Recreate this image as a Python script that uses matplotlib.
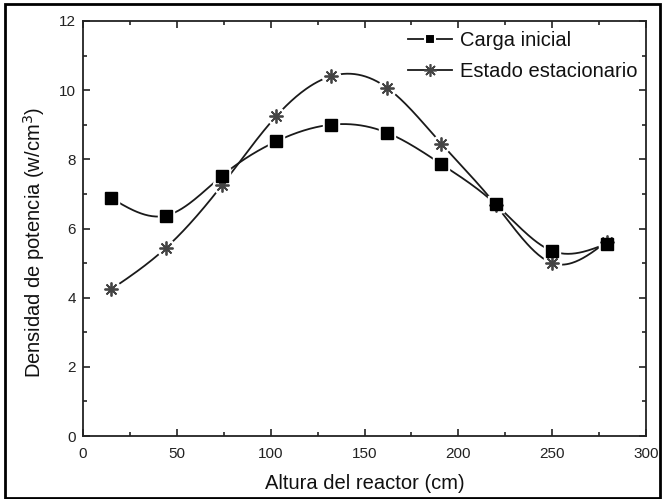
import matplotlib.pyplot as plt
import numpy as np
from matplotlib.lines import Line2D
from matplotlib.patches import Rectangle

plt.rcParams["font.family"] = ["Liberation Sans", "DejaVu Sans"]

altura = [15, 44, 74, 103, 132, 162, 191, 220, 250, 279]
carga_inicial = [6.88, 6.37, 7.52, 8.52, 9.00, 8.77, 7.86, 6.70, 5.35, 5.56]
estado_estacionario = [4.24, 5.43, 7.25, 9.25, 10.40, 10.07, 8.45, 6.68, 5.00, 5.62]


def natural_spline(x, y, n=400):
    # natural cubic spline through the points, done with numpy only
    x = np.asarray(x, float)
    y = np.asarray(y, float)
    m = len(x)
    h = np.diff(x)
    A = np.zeros((m, m))
    b = np.zeros(m)
    A[0, 0] = A[-1, -1] = 1
    for i in range(1, m - 1):
        A[i, i - 1] = h[i - 1]
        A[i, i] = 2 * (h[i - 1] + h[i])
        A[i, i + 1] = h[i]
        b[i] = 6 * ((y[i + 1] - y[i]) / h[i] - (y[i] - y[i - 1]) / h[i - 1])
    M = np.linalg.solve(A, b)
    xs = np.linspace(x[0], x[-1], n)
    k = np.clip(np.searchsorted(x, xs) - 1, 0, m - 2)
    t0 = x[k + 1] - xs
    t1 = xs - x[k]
    hk = h[k]
    ys = (M[k] * t0**3 + M[k + 1] * t1**3) / (6 * hk) \
        + (y[k] / hk - M[k] * hk / 6) * t0 + (y[k + 1] / hk - M[k + 1] * hk / 6) * t1
    return xs, ys


fig = plt.figure(figsize=(6.62, 4.99), dpi=100)
ax = fig.add_axes([83 / 662, 1 - 436 / 499, (646 - 83) / 662, (436 - 21) / 499])

line_c = "#1a1a1a"
star = (8, 2, 0)

xs, ys = natural_spline(altura, carga_inicial)
ax.plot(xs, ys, color=line_c, lw=1.3, zorder=2)
xs, ys = natural_spline(altura, estado_estacionario)
ax.plot(xs, ys, color=line_c, lw=1.3, zorder=2)

# white halos give the gaps in the line around each symbol
ax.plot(altura, carga_inicial, ls="none", marker="s", ms=12, color="white", zorder=3)
ax.plot(altura, estado_estacionario, ls="none", marker="o", ms=13, color="white", zorder=3)
ax.plot(altura, estado_estacionario, ls="none", marker=star, ms=10, mew=1.3,
        color="#444444", zorder=4)
ax.plot(altura, carga_inicial, ls="none", marker="s", ms=8, color="black", zorder=5)

ax.set_xlim(0, 300)
ax.set_ylim(0, 12)
ax.set_xticks(np.arange(0, 301, 50))
ax.set_xticks(np.arange(0, 301, 25), minor=True)
ax.set_yticks(np.arange(0, 13, 2))
ax.set_yticks(np.arange(0, 13, 1), minor=True)
ax.tick_params(which="both", direction="in", top=True, right=True,
               labelsize=11, width=1.2, colors="#222222")
ax.tick_params(axis="x", which="major", pad=8)
ax.tick_params(axis="y", which="major", pad=5)
ax.tick_params(which="major", length=5)
ax.tick_params(which="minor", length=3)
for s in ax.spines.values():
    s.set_linewidth(1.3)
    s.set_color("#222222")

ax.set_xlabel("Altura del reactor (cm)", fontsize=14.5, labelpad=9, color="#111111")
ax.set_ylabel("Densidad de potencia (w/cm$^3$)", fontsize=14.5, color="#111111")
ax.yaxis.set_label_coords(-0.064, 0.467)

handles = [
    Line2D([], [], color=line_c, lw=1.3, marker="s", ms=7, mfc="black",
           mec="white", mew=1.5),
    Line2D([], [], color=line_c, lw=1.3, marker=star, ms=9, mew=1.2, mec="#444444"),
]
ax.legend(handles, ["Carga inicial", "Estado estacionario"], loc="upper right",
          bbox_to_anchor=(1.0, 0.995), frameon=False, fontsize=14.5,
          handlelength=2.2, handletextpad=0.4, labelspacing=0.6,
          borderaxespad=0.1, borderpad=0.3, labelcolor="#111111")

fig.add_artist(Rectangle((5 / 662, 1 / 499), 655 / 662, 494 / 499,
                         transform=fig.transFigure, fill=False, lw=2, ec="black"))

fig.savefig("out.png", dpi=100)
